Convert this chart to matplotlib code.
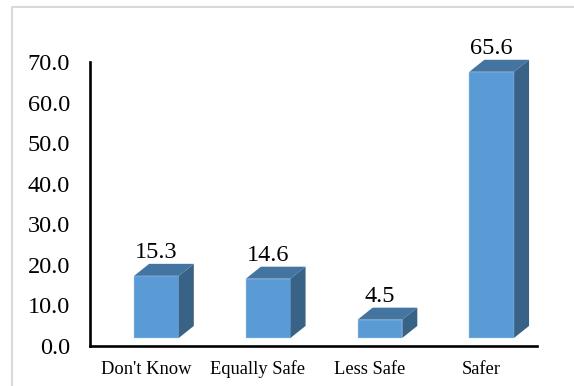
import matplotlib
matplotlib.use("Agg")
import matplotlib.pyplot as plt
from matplotlib.lines import Line2D
from matplotlib.patches import Polygon

plt.rcParams['font.family'] = ['Liberation Serif', 'DejaVu Serif']

categories = ["Don't Know", "Equally Safe", "Less Safe", "Safer"]
values = [15.3, 14.6, 4.5, 65.6]
y_ticks = [0, 10, 20, 30, 40, 50, 60, 70]

W, H = 574, 386
FRONT = '#5b9bd5'
TOP = '#4475a1'
SIDE = '#386387'

fig = plt.figure(figsize=(W / 100, H / 100), dpi=100)
fig.patch.set_facecolor('white')

# grey border, only the top and left edges are inside the canvas
fig.add_artist(Line2D([12 / W, 12 / W, 1], [0, (H - 6.5) / H, (H - 6.5) / H], transform=fig.transFigure,
                      color='#d9d9d9', linewidth=1.5))

# axes box in pixels: x 90..537, y 62..346 from the top
ax = fig.add_axes([90 / W, (H - 346) / H, 447 / W, 284 / H])
ax.set_xlim(-0.5, 3.5)
ax.set_ylim(0, 70)

# floor lift, depth of the 3d box and front face size, in data units
lift = 2.0
dx = 0.134
dy = 2.95
width = 0.40
shift = 0.095

for i, v in enumerate(values):
    x0 = i + shift - width / 2
    x1 = i + shift + width / 2
    ax.bar(i + shift, v, width=width, bottom=lift, color=FRONT, edgecolor='#a9c9e8', linewidth=0.3, clip_on=False, zorder=3)
    top = [(x0, lift + v), (x1, lift + v), (x1 + dx, lift + v + dy), (x0 + dx, lift + v + dy)]
    side = [(x1, lift), (x1 + dx, lift + dy), (x1 + dx, lift + v + dy), (x1, lift + v)]
    ax.add_patch(Polygon(top, closed=True, facecolor=TOP, edgecolor='none', clip_on=False, zorder=3))
    ax.add_patch(Polygon(side, closed=True, facecolor=SIDE, edgecolor='none', clip_on=False, zorder=3))
    ax.text(i + shift, lift + v + dy + 1.4, f"{v:.1f}", ha='center', va='baseline', fontsize=17.5, color='black', clip_on=False)

for s in ['top', 'right']:
    ax.spines[s].set_visible(False)
for s in ['left', 'bottom']:
    ax.spines[s].set_linewidth(1.9)
    ax.spines[s].set_color('black')

ax.set_xticks(range(len(categories)))
ax.set_xticklabels(categories, fontsize=13.3)
ax.set_yticks(y_ticks)
ax.set_yticklabels([f"{t:.1f}" for t in y_ticks], fontsize=17.5)
ax.tick_params(axis='both', length=0)
ax.tick_params(axis='x', pad=10.5)
ax.tick_params(axis='y', pad=14.5)

fig.savefig('out.png', dpi=100)
